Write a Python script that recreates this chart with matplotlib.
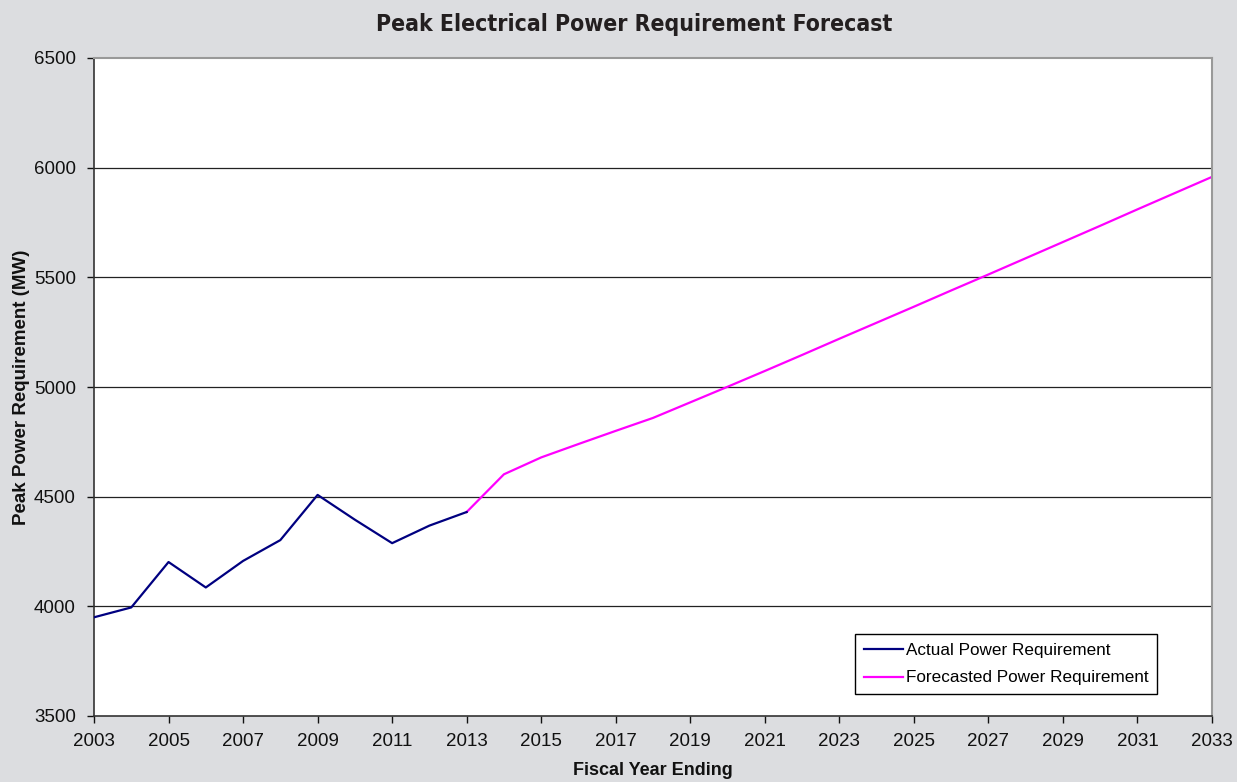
import matplotlib
matplotlib.use("Agg")
import matplotlib.pyplot as plt

actual_years = [2003, 2004, 2005, 2006, 2007, 2008, 2009, 2010, 2011, 2012, 2013]
actual_mw = [3950, 3995, 4202, 4086, 4207, 4302, 4508, 4395, 4288, 4368, 4430]

forecast_years = list(range(2013, 2034))
forecast_mw = [4430, 4602, 4679, 4740, 4800, 4859, 4930, 5001, 5073, 5146,
               5220, 5293, 5366, 5440, 5513, 5587, 5661, 5735, 5810, 5884, 5958]

x_ticks = list(range(2003, 2034, 2))
y_ticks = [3500, 4000, 4500, 5000, 5500, 6000, 6500]

title = "Peak Electrical Power Requirement Forecast"
xlabel = "Fiscal Year Ending"
ylabel = "Peak Power Requirement (MW)"
legend_labels = ["Actual Power Requirement", "Forecasted Power Requirement"]

plt.rcParams["font.family"] = ["Liberation Sans", "DejaVu Sans"]

bg = "#dcdde0"
fig = plt.figure(figsize=(12.37, 7.82), dpi=100, facecolor=bg)
ax = fig.add_axes([94 / 1237, 1 - 716 / 782, (1212 - 94) / 1237, (716 - 58) / 782])
ax.set_facecolor("white")

for y in y_ticks[1:-1]:
    ax.axhline(y, color="#222222", lw=0.9, zorder=1)

ax.plot(actual_years, actual_mw, color="#000080", lw=1.6, label=legend_labels[0], zorder=3)
ax.plot(forecast_years, forecast_mw, color="#ff00ff", lw=1.6, label=legend_labels[1], zorder=2)

ax.set_xlim(2003, 2033)
ax.set_ylim(3500, 6500)
ax.set_xticks(x_ticks)
ax.set_yticks(y_ticks)
ax.tick_params(axis="both", direction="out", length=5, width=1, labelsize=13.5,
               colors="#111111")
ax.tick_params(axis="x", pad=7)
ax.tick_params(axis="y", pad=8)
for s in ["left", "bottom"]:
    ax.spines[s].set_color("#333333")
    ax.spines[s].set_linewidth(1.2)
for s in ["top", "right"]:
    ax.spines[s].set_color("#999999")
    ax.spines[s].set_linewidth(1.5)

ax.set_xlabel(xlabel, fontsize=13, fontweight="bold", labelpad=9, color="#111111")
ax.set_ylabel(ylabel, fontsize=13.5, fontweight="bold", labelpad=3, color="#111111")

fig.text(0.5127, 0.969, title, ha="center", va="center", fontsize=16.5,
         fontweight="bold", fontstretch="condensed", family=["DejaVu Sans"],
         color="#231f20")

leg = ax.legend(loc="lower right", bbox_to_anchor=(0.9508, 0.0334), fontsize=12.3,
                frameon=True, fancybox=False, edgecolor="black", framealpha=1,
                handlelength=2.3, handletextpad=0.15, borderpad=0.5, labelspacing=0.75,
                borderaxespad=0)
leg.get_frame().set_linewidth(1.0)

fig.savefig("out.png", dpi=100, facecolor=bg)
